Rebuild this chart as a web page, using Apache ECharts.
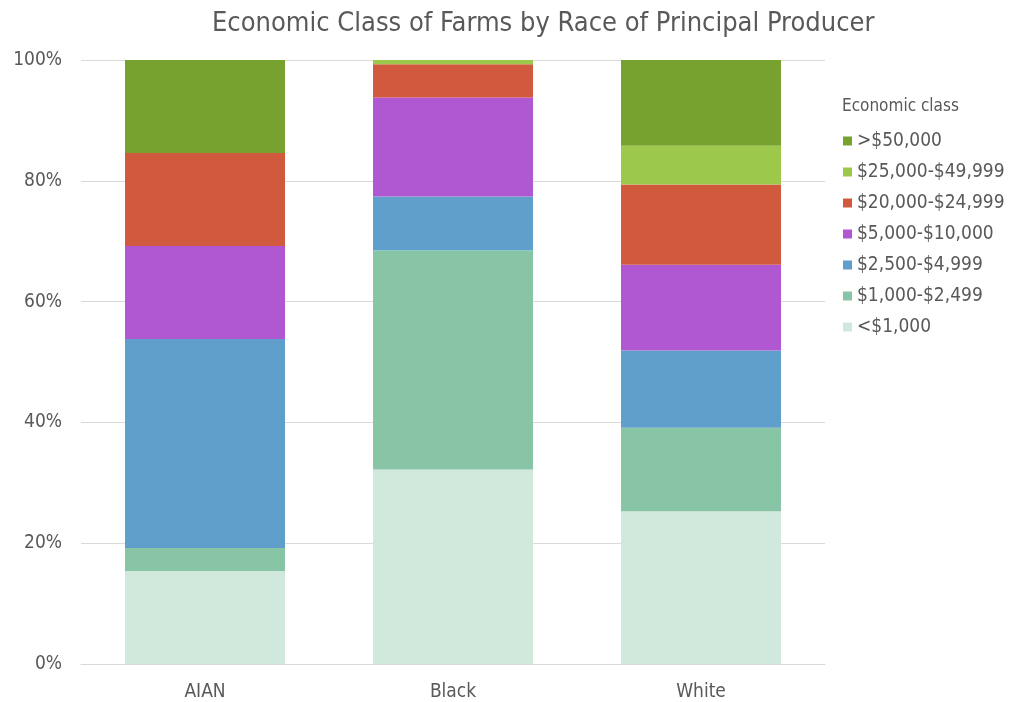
<!DOCTYPE html>
<html>
<head>
<meta charset="utf-8">
<title>Economic Class of Farms by Race of Principal Producer</title>
<script src="https://cdn.jsdelivr.net/npm/echarts@6/dist/echarts.min.js"></script>
<style>
  html, body { margin: 0; padding: 0; background: #ffffff; }
  #chart { width: 1020px; height: 702px; }
</style>
</head>
<body>
<div id="chart"></div>
<script>
// Producer race groups along the x axis
const categories = ['AIAN', 'Black', 'White'];

// Share of farms (%) in each economic class, per race group
const under1000    = [15.4, 32.2, 25.3];
const from1000     = [3.8, 36.3, 13.8];
const from2500     = [34.6, 8.9, 12.8];
const from5000     = [15.4, 16.4, 14.2];
const from20000    = [15.4, 5.5, 13.3];
const from25000    = [0, 0.7, 6.4];
const over50000    = [15.4, 0, 14.2];

// y axis tick labels
const yTicks = ['0%', '20%', '40%', '60%', '80%', '100%'];

const classNames = ['<$1,000', '$1,000-$2,499', '$2,500-$4,999', '$5,000-$10,000',
                    '$20,000-$24,999', '$25,000-$49,999', '>$50,000'];
const classValues = [under1000, from1000, from2500, from5000, from20000, from25000, over50000];
const classColors = ['#D1E8DC', '#88C4A6', '#609FCB', '#AF58D1', '#D15A3E', '#9CC94B', '#78A22F'];

const font = '"Liberation Sans Narrow", "DejaVu Sans Condensed", sans-serif';
const textGray = '#595959';

const chart = echarts.init(document.getElementById('chart'), null, { renderer: 'canvas' });

chart.setOption({
  animation: false,
  backgroundColor: '#ffffff',
  title: {
    text: 'Economic Class of Farms by Race of Principal Producer',
    left: 207,
    top: 5,
    textStyle: { fontFamily: font, fontSize: 27, fontWeight: 'normal', color: textGray }
  },
  graphic: [{
    type: 'text',
    left: 842,
    top: 98,
    style: { text: 'Economic class', fontFamily: font, fontSize: 17, fill: textGray }
  }],
  legend: {
    orient: 'vertical',
    left: 838,
    top: 126,
    itemWidth: 9,
    itemHeight: 9,
    itemGap: 11,
    icon: 'rect',
    data: classNames.slice().reverse(),
    textStyle: { fontFamily: font, fontSize: 19, color: textGray, lineHeight: 20, padding: [0, 0, 0, 0] }
  },
  grid: { left: 81, right: 195, top: 60, bottom: 38, containLabel: false },
  xAxis: {
    type: 'category',
    data: categories,
    axisLine: { show: true, lineStyle: { color: '#d9d9d9', width: 1 } },
    axisTick: { show: false },
    axisLabel: { fontFamily: font, fontSize: 19, color: textGray, margin: 19 }
  },
  yAxis: {
    type: 'value',
    min: 0,
    max: 100,
    interval: 20,
    axisLine: { show: false },
    axisTick: { show: false },
    splitLine: { lineStyle: { color: '#d9d9d9', width: 1 } },
    axisLabel: {
      fontFamily: font, fontSize: 19, color: textGray, margin: 19,
      formatter: v => yTicks[Math.round(v / 20)]
    }
  },
  series: classNames.map((name, i) => ({
    name,
    type: 'bar',
    stack: 'share',
    barWidth: 160,
    data: classValues[i],
    itemStyle: { color: classColors[i] },
    emphasis: { disabled: true }
  }))
});
</script>
</body>
</html>
